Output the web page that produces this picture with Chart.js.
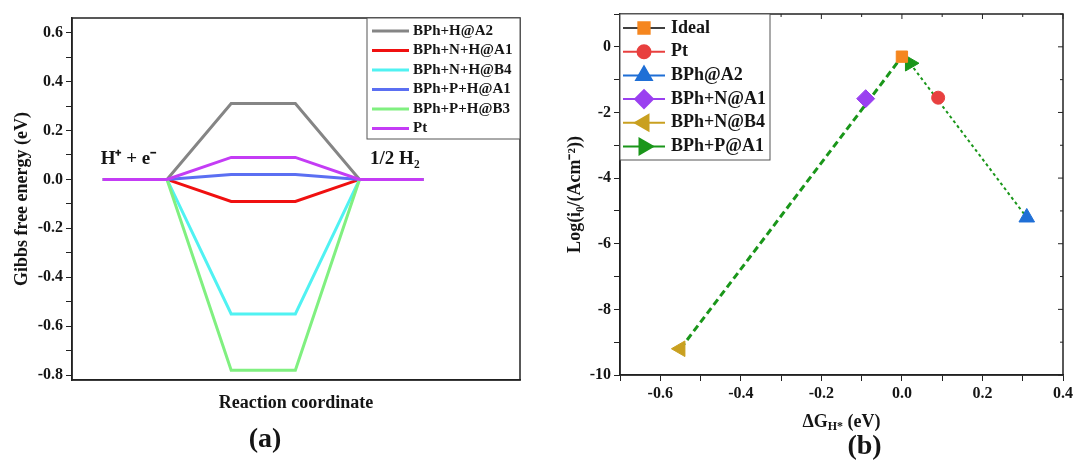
<!DOCTYPE html>
<html>
<head>
<meta charset="utf-8">
<script src="https://cdn.jsdelivr.net/npm/chart.js@4"></script>
<style>
  body { margin: 0; background: #fff; }
  #wrap { position: relative; width: 1076px; height: 463px; }
  .panel { position: absolute; top: 0; height: 463px; }
  #panelA { left: 0; width: 540px; }
  #panelB { left: 540px; width: 536px; }
</style>
</head>
<body>
<div id="wrap">
  <div class="panel" id="panelA"><canvas id="chartA"></canvas></div>
  <div class="panel" id="panelB"><canvas id="chartB"></canvas></div>
</div>
<script>
// ---- panel (a): free energy diagram ----
const stepCoords = [0, 1, 2, 3, 4, 5];
const pathLabels = ['BPh+H@A2', 'BPh+N+H@A1', 'BPh+N+H@B4', 'BPh+P+H@A1', 'BPh+P+H@B3', 'Pt'];
const hAdsEnergies = [0.31, -0.09, -0.55, 0.02, -0.78, 0.09];
const pathColors = ['#858585', '#f01010', '#50f2f2', '#5b6ff2', '#80f080', '#c43cf5'];
const stateLabels = ['H\u207A + e\u207B', '1/2 H\u2082'];
const stateLabelX = [0.4, 4.55];
const stateLabelY = [0.085, 0.085];

// ---- panel (b): volcano plot ----
const catalystLabels = ['Ideal', 'Pt', 'BPh@A2', 'BPh+N@A1', 'BPh+N@B4', 'BPh+P@A1'];
const deltaG = [0, 0.09, 0.31, -0.09, -0.55, 0.02];
const logI0 = [-0.3, -1.55, -5.2, -1.58, -9.2, -0.5];
const markerColors = ['#f5861f', '#e8403f', '#1f6fd6', '#9a40f0', '#c9a020', '#1a961a'];
const legendLineColors = ['#404040', '#e8403f', '#1f6fd6', '#9a40f0', '#c9a020', '#1a961a'];
const markerStyles = ['rect', 'circle', 'triangle', 'rectRot', 'triangle', 'triangle'];
const markerRotation = [0, 0, 0, 0, -90, 90];
const markerRadius = [8, 6.5, 9, 9, 9, 9];
// volcano branches, by catalyst index
const leftBranch = [4, 0];
const rightBranch = [5, 2];

const SERIF = '"Liberation Serif", "Times New Roman", serif';
const INK = '#151515';

function tenthLabel(value) {
    const k = Math.round(value * 10);
    if (k % 2 !== 0) return '';
    return (k / 10).toFixed(1);
}

// box around the plot + optional inward ticks on top/right
const framePlugin = {
    id: 'frame',
    afterDraw(chart, args, opts) {
        const { ctx, chartArea: a } = chart;
        ctx.save();
        ctx.strokeStyle = '#222';
        ctx.lineWidth = 1.5;
        ctx.strokeRect(a.left, a.top, a.right - a.left, a.bottom - a.top);
        if (opts.mirror) {
            ctx.lineWidth = 1;
            const xs = chart.scales.x;
            xs.ticks.forEach(t => {
                const px = xs.getPixelForValue(t.value);
                const len = Math.round(t.value * 10) % 2 === 0 ? 5 : 3;
                ctx.beginPath(); ctx.moveTo(px, a.top); ctx.lineTo(px, a.top + len); ctx.stroke();
            });
            const ys = chart.scales.y;
            ys.ticks.forEach(t => {
                const py = ys.getPixelForValue(t.value);
                const len = Math.round(t.value) % 2 === 0 ? 5 : 3;
                ctx.beginPath(); ctx.moveTo(a.right, py); ctx.lineTo(a.right - len, py); ctx.stroke();
            });
        }
        ctx.restore();
    }
};

// legend of the energy diagram (top right corner)
const levelLegend = {
    id: 'levelLegend',
    afterDraw(chart) {
        const { ctx, chartArea: a } = chart;
        const w = 153, h = 121;
        const x0 = a.right - w, y0 = a.top;
        ctx.save();
        ctx.fillStyle = '#fff';
        ctx.fillRect(x0, y0, w, h);
        ctx.strokeStyle = '#555';
        ctx.lineWidth = 1;
        ctx.strokeRect(x0, y0, w, h);
        ctx.font = 'bold 15px ' + SERIF;
        ctx.textBaseline = 'middle';
        chart.data.datasets.forEach((ds, i) => {
            const y = y0 + 13 + i * 19.5;
            ctx.strokeStyle = ds.borderColor;
            ctx.lineWidth = 3;
            ctx.beginPath(); ctx.moveTo(x0 + 5, y); ctx.lineTo(x0 + 42, y); ctx.stroke();
            ctx.fillStyle = INK;
            ctx.fillText(ds.label, x0 + 46, y);
        });
        ctx.restore();
    }
};

// "H+ + e-" and "1/2 H2" labels above the flat levels
const stateText = {
    id: 'stateText',
    afterDatasetsDraw(chart) {
        const { ctx, scales: { x, y } } = chart;
        ctx.save();
        ctx.font = 'bold 19px ' + SERIF;
        ctx.fillStyle = INK;
        ctx.textAlign = 'center';
        ctx.textBaseline = 'middle';
        stateLabels.forEach((txt, i) => {
            ctx.fillText(txt, x.getPixelForValue(stateLabelX[i]), y.getPixelForValue(stateLabelY[i]));
        });
        ctx.restore();
    }
};

// legend of the volcano plot (top left corner), line-marker-line samples
const volcanoLegend = {
    id: 'volcanoLegend',
    afterDraw(chart) {
        const { ctx, chartArea: a } = chart;
        const w = 150, h = 146;
        const x0 = a.left, y0 = a.top;
        ctx.save();
        ctx.fillStyle = '#fff';
        ctx.fillRect(x0, y0, w, h);
        ctx.strokeStyle = '#555';
        ctx.lineWidth = 1;
        ctx.strokeRect(x0, y0, w, h);
        ctx.font = 'bold 18px ' + SERIF;
        ctx.textBaseline = 'middle';
        catalystLabels.forEach((label, i) => {
            const y = y0 + 14 + i * 23.7;
            ctx.strokeStyle = legendLineColors[i];
            ctx.lineWidth = 2;
            ctx.beginPath(); ctx.moveTo(x0 + 3, y); ctx.lineTo(x0 + 45, y); ctx.stroke();
            ctx.fillStyle = markerColors[i];
            ctx.strokeStyle = markerColors[i];
            Chart.helpers.drawPoint(ctx, {
                pointStyle: markerStyles[i],
                radius: markerRadius[i],
                rotation: markerRotation[i],
                borderWidth: 1
            }, x0 + 24, y);
            ctx.fillStyle = INK;
            ctx.fillText(label, x0 + 51, y);
        });
        ctx.restore();
    }
};

// panel letters and the subscripted x title of (b)
const panelText = {
    id: 'panelText',
    afterDraw(chart, args, opts) {
        const { ctx, chartArea: a } = chart;
        const cx = (a.left + a.right) / 2;
        ctx.save();
        ctx.fillStyle = INK;
        ctx.textBaseline = 'middle';
        ctx.textAlign = 'center';
        ctx.font = 'bold 28px ' + SERIF;
        ctx.fillText(opts.letter, cx + opts.letterDx, a.bottom + opts.letterDy);
        if (opts.deltaTitle) {
            const y = a.bottom + 47;
            const big = 'bold 18px ' + SERIF, small = 'bold 12px ' + SERIF;
            ctx.textAlign = 'left';
            ctx.font = big; const w1 = ctx.measureText('\u0394G').width;
            ctx.font = small; const w2 = ctx.measureText('H*').width;
            ctx.font = big; const w3 = ctx.measureText(' (eV)').width;
            let x = cx - (w1 + w2 + w3) / 2;
            ctx.font = big; ctx.fillText('\u0394G', x, y); x += w1;
            ctx.font = small; ctx.fillText('H*', x, y + 5); x += w2;
            ctx.font = big; ctx.fillText(' (eV)', x, y);
        }
        ctx.restore();
    }
};

function tickFont() { return { family: SERIF, size: 16, weight: 'bold' }; }

// ---- chart (a) ----
// lower order is drawn on top, so Pt (last) ends up over the shared flat levels
const levelSets = pathLabels.map((label, i) => ({
    label: label,
    data: stepCoords.map((x, j) => ({ x: x, y: (j === 2 || j === 3) ? hAdsEnergies[i] : 0 })),
    borderColor: pathColors[i],
    backgroundColor: pathColors[i],
    borderWidth: 3,
    showLine: true,
    pointRadius: 0,
    tension: 0,
    order: pathLabels.length - i
}));

new Chart(document.getElementById('chartA'), {
    type: 'scatter',
    data: { datasets: levelSets },
    options: {
        responsive: true,
        maintainAspectRatio: false,
        animation: false,
        layout: { padding: { top: 18, right: 20, left: 0, bottom: 0 } },
        plugins: {
            legend: { display: false },
            tooltip: { enabled: false },
            frame: { mirror: false },
            panelText: { letter: '(a)', letterDx: -31, letterDy: 60 }
        },
        scales: {
            x: {
                type: 'linear',
                min: -0.48,
                max: 6.5,
                ticks: { display: false },
                grid: { display: false },
                border: { display: true, color: '#222', width: 1.5 },
                title: {
                    display: true,
                    text: 'Reaction coordinate',
                    color: INK,
                    font: { family: SERIF, size: 18, weight: 'bold' },
                    padding: { top: 0, bottom: 49 }
                },
                afterFit: s => { s.height = 83; }
            },
            y: {
                type: 'linear',
                min: -0.82,
                max: 0.66,
                ticks: {
                    stepSize: 0.1,
                    maxTicksLimit: 50,
                    includeBounds: false,
                    color: INK,
                    font: tickFont(),
                    padding: 3,
                    callback: v => tenthLabel(v)
                },
                grid: { drawOnChartArea: false, tickLength: 6, color: '#222' },
                border: { display: true, color: '#222', width: 1.5 },
                title: {
                    display: true,
                    text: 'Gibbs free energy (eV)',
                    color: INK,
                    font: { family: SERIF, size: 18, weight: 'bold' },
                    padding: { top: 12, bottom: 0 }
                },
                afterFit: s => { s.width = 72; }
            }
        }
    },
    plugins: [stateText, framePlugin, levelLegend, panelText]
});

// ---- chart (b) ----
const pointSets = catalystLabels.map((label, i) => ({
    label: label,
    data: [{ x: deltaG[i], y: logI0[i] }],
    pointStyle: markerStyles[i],
    pointRotation: markerRotation[i],
    pointRadius: markerRadius[i],
    pointBackgroundColor: markerColors[i],
    pointBorderColor: markerColors[i],
    pointBorderWidth: 1,
    showLine: false,
    order: 1
}));

function branch(idx, width, dash) {
    return {
        label: 'branch',
        data: idx.map(k => ({ x: deltaG[k], y: logI0[k] })),
        borderColor: '#1a961a',
        borderWidth: width,
        borderDash: dash,
        showLine: true,
        pointRadius: 0,
        order: 2
    };
}

new Chart(document.getElementById('chartB'), {
    type: 'scatter',
    data: { datasets: pointSets.concat([branch(leftBranch, 3, [7, 4]), branch(rightBranch, 2, [3, 3])]) },
    options: {
        responsive: true,
        maintainAspectRatio: false,
        animation: false,
        layout: { padding: { top: 14, right: 11, left: 0, bottom: 0 } },
        plugins: {
            legend: { display: false },
            tooltip: { enabled: false },
            frame: { mirror: true },
            panelText: { letter: '(b)', letterDx: 23, letterDy: 72, deltaTitle: true }
        },
        scales: {
            x: {
                type: 'linear',
                min: -0.7,
                max: 0.4,
                ticks: {
                    stepSize: 0.1,
                    maxTicksLimit: 50,
                    includeBounds: false,
                    color: INK,
                    font: tickFont(),
                    padding: 3,
                    maxRotation: 0,
                    autoSkip: false,
                    callback: v => tenthLabel(v)
                },
                grid: { drawOnChartArea: false, tickLength: 6, color: '#222' },
                border: { display: true, color: '#222', width: 1.5 },
                title: { display: false },
                afterFit: s => { s.height = 88; }
            },
            y: {
                type: 'linear',
                min: -10,
                max: 1,
                ticks: {
                    stepSize: 1,
                    maxTicksLimit: 50,
                    includeBounds: false,
                    color: INK,
                    font: tickFont(),
                    padding: 3,
                    autoSkip: false,
                    callback: v => (Math.round(v) % 2 === 0 ? String(Math.round(v)) : '')
                },
                grid: { drawOnChartArea: false, tickLength: 6, color: '#222' },
                border: { display: true, color: '#222', width: 1.5 },
                title: {
                    display: true,
                    text: 'Log(i\u2080/(Acm\u207B\u00B2))',
                    color: INK,
                    font: { family: SERIF, size: 18, weight: 'bold' },
                    padding: { top: 25, bottom: 0 }
                },
                afterFit: s => { s.width = 80; }
            }
        }
    },
    plugins: [framePlugin, volcanoLegend, panelText]
});
</script>
</body>
</html>
